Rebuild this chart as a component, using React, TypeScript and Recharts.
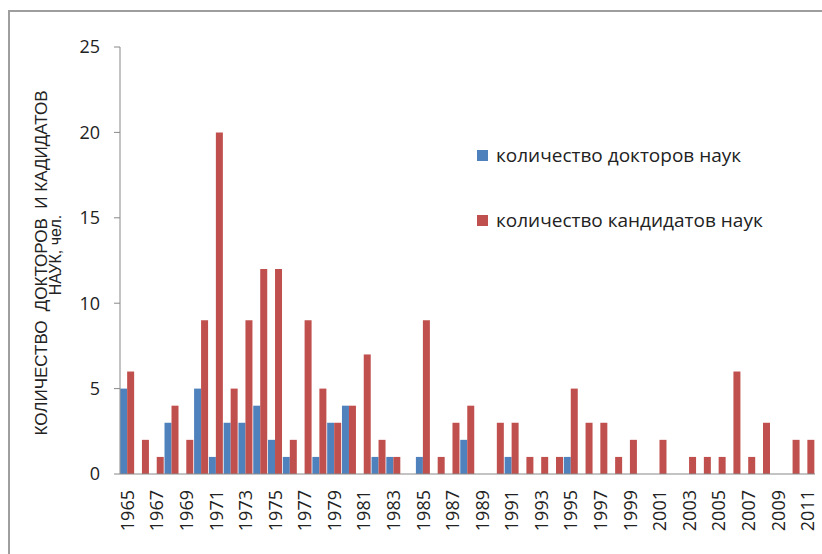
import React from 'react';
import { BarChart, Bar, XAxis, YAxis, Legend } from 'recharts';

const years = [
  1965, 1966, 1967, 1968, 1969, 1970, 1971, 1972, 1973, 1974, 1975, 1976,
  1977, 1978, 1979, 1980, 1981, 1982, 1983, 1984, 1985, 1986, 1987, 1988,
  1989, 1990, 1991, 1992, 1993, 1994, 1995, 1996, 1997, 1998, 1999, 2000,
  2001, 2002, 2003, 2004, 2005, 2006, 2007, 2008, 2009, 2010, 2011,
];

const doctors = [
  5, 0, 0, 3, 0, 5, 1, 3, 3, 4, 2, 1,
  0, 1, 3, 4, 0, 1, 1, 0, 1, 0, 0, 2,
  0, 0, 1, 0, 0, 0, 1, 0, 0, 0, 0, 0,
  0, 0, 0, 0, 0, 0, 0, 0, 0, 0, 0,
];

const candidates = [
  6, 2, 1, 4, 2, 9, 20, 5, 9, 12, 12, 2,
  9, 5, 3, 4, 7, 2, 1, 0, 9, 1, 3, 4,
  0, 3, 3, 1, 1, 1, 5, 3, 3, 1, 2, 0,
  2, 0, 1, 1, 1, 6, 1, 3, 0, 2, 2,
];

const yTicks = [0, 5, 10, 15, 20, 25];

const DOC_NAME = 'количество докторов наук';
const CAND_NAME = 'количество кандидатов наук';
const BLUE = '#4F81BD';
const RED = '#C0504D';

const data = years.map((y, i) => ({
  year: String(y),
  doc: doctors[i],
  cand: candidates[i],
}));

const YearTick = (props: any) => {
  const { x, y, payload } = props;
  const ty = y + 14;
  return (
    <text
      x={x}
      y={ty}
      transform={`rotate(-90 ${x} ${ty})`}
      textAnchor="end"
      dy="0.36em"
      fontSize={18}
      fontFamily="'Open Sans', sans-serif"
      fill="#222"
    >
      {payload.value}
    </text>
  );
};

const YLabel = () => (
  <g fontFamily="'Liberation Sans', Arial, sans-serif" fill="#222">
    <text
      x={41}
      y={263}
      transform="rotate(-90 41 263)"
      textAnchor="middle"
      dy="0.35em"
      fontSize={17}
      style={{ whiteSpace: 'pre' }}
    >
      {'КОЛИЧЕСТВО  ДОКТОРОВ  И КАДИДАТОВ'}
    </text>
    <text
      x={55}
      y={255}
      transform="rotate(-90 55 255)"
      textAnchor="middle"
      dy="0.35em"
      fontSize={16}
    >
      НАУК, чел.
    </text>
  </g>
);

const LegendBox = () => (
  <div style={{ position: 'relative', fontFamily: "'Open Sans', sans-serif", fontSize: 19, color: '#222' }}>
    {[
      { name: DOC_NAME, color: BLUE, top: 0 },
      { name: CAND_NAME, color: RED, top: 65 },
    ].map((it) => (
      <div
        key={it.name}
        style={{ position: 'absolute', left: 0, top: it.top, display: 'flex', alignItems: 'center', whiteSpace: 'nowrap', height: 24 }}
      >
        <span style={{ display: 'inline-block', width: 11, height: 11, background: it.color, marginRight: 8 }} />
        <span>{it.name}</span>
      </div>
    ))}
  </div>
);

export default function App() {
  return (
    <div style={{ position: 'absolute', left: 0, top: 0, width: 822, height: 554, overflow: 'hidden', background: '#fff' }}>
      <div
        style={{
          position: 'absolute',
          left: 8,
          top: 10,
          width: 900,
          height: 700,
          borderLeft: '2px solid #9e9e9e',
          borderTop: '2px solid #9e9e9e',
        }}
      />
      <BarChart
        width={822}
        height={554}
        data={data}
        margin={{ top: 47, right: 7, bottom: 5, left: 0 }}
        barCategoryGap="1%"
        barGap={0}
        style={{ position: 'absolute', left: 0, top: 0 }}
      >
        <XAxis
          dataKey="year"
          interval={1}
          tickLine={false}
          tickSize={0}
          axisLine={{ stroke: '#888' }}
          height={75}
          tick={<YearTick />}
        />
        <YAxis
          domain={[0, 25]}
          ticks={yTicks}
          width={120}
          axisLine={{ stroke: '#888' }}
          tickLine={{ stroke: '#888' }}
          tickSize={6}
          tickMargin={14}
          tick={{ fontSize: 18, fill: '#222', fontFamily: "'Open Sans', sans-serif" }}
          label={{ content: () => <YLabel /> }}
        />
        <Legend
          layout="vertical"
          align="center"
          verticalAlign="middle"
          content={() => <LegendBox />}
          wrapperStyle={{ position: 'absolute', left: 477, top: 143, width: 340, height: 100 }}
        />
        <Bar dataKey="doc" name={DOC_NAME} fill={BLUE} isAnimationActive={false} />
        <Bar dataKey="cand" name={CAND_NAME} fill={RED} isAnimationActive={false} />
      </BarChart>
    </div>
  );
}
